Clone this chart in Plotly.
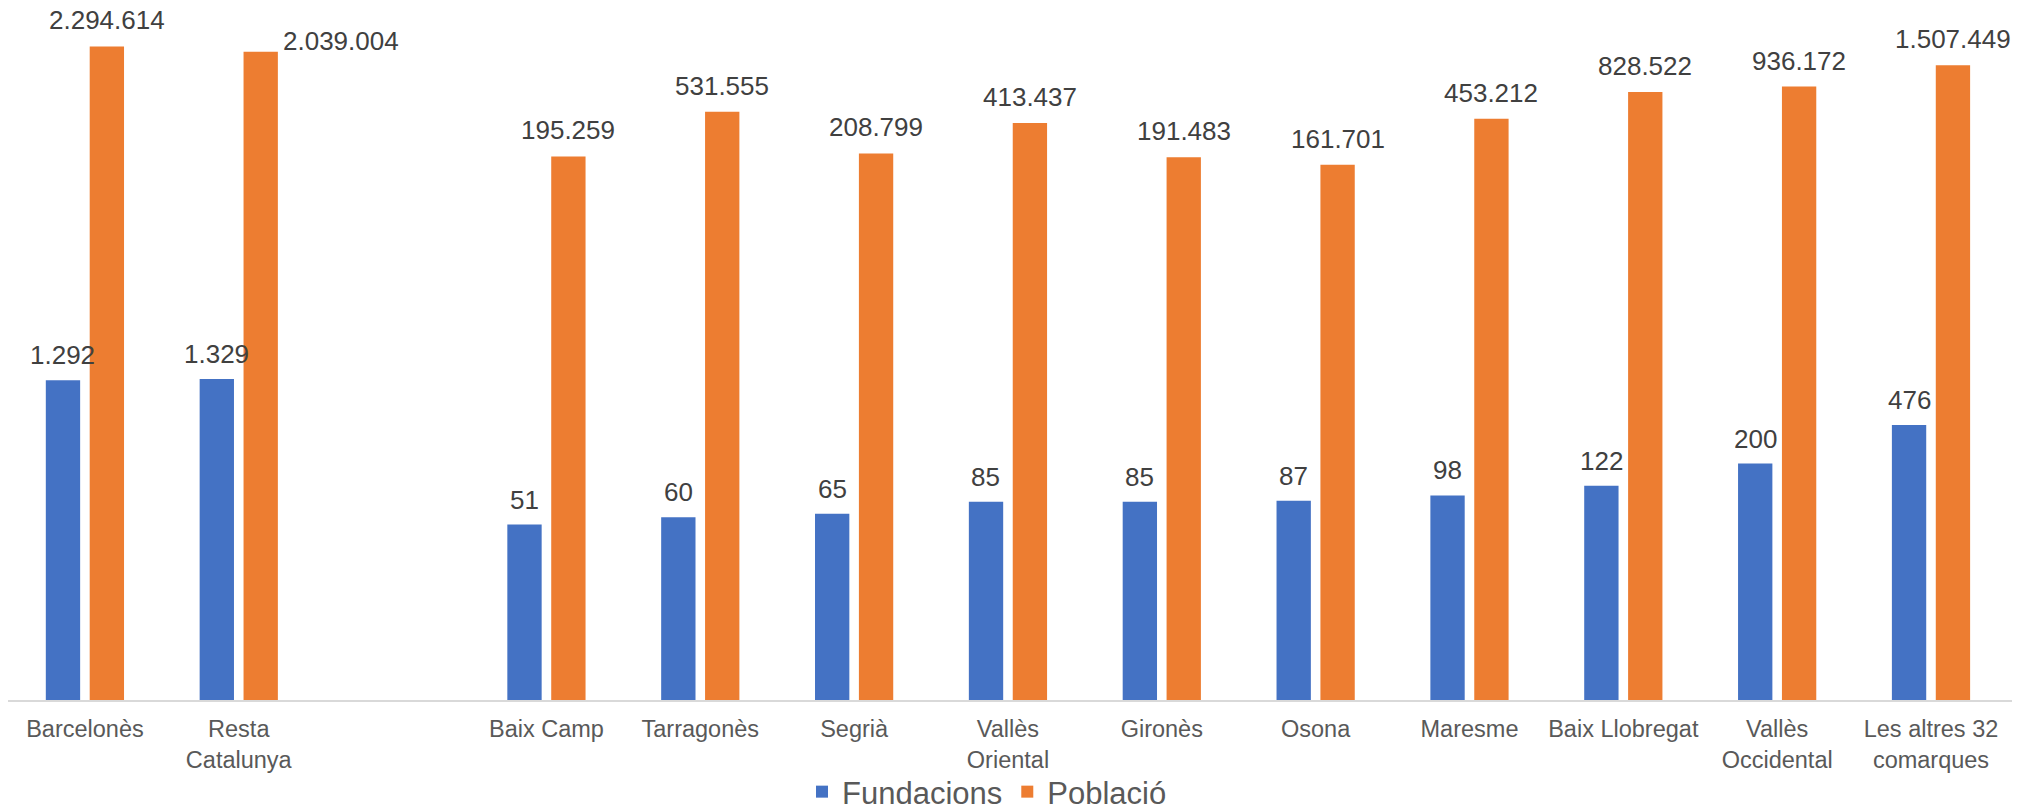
import numpy as np
import plotly.graph_objects as go

categories = ["Barcelonès", "Resta<br>Catalunya", " ", "Baix Camp", "Tarragonès", "Segrià",
              "Vallès<br>Oriental", "Gironès", "Osona", "Maresme", "Baix Llobregat",
              "Vallès<br>Occidental", "Les altres 32<br>comarques"]
fundacions = [1292, 1329, None, 51, 60, 65, 85, 85, 87, 98, 122, 200, 476]
poblacio = [2294614, 2039004, None, 195259, 531555, 208799, 413437, 191483, 161701,
            453212, 828522, 936172, 1507449]

BLUE = "#4472C4"
ORANGE = "#ED7D31"
FONT = "Liberation Sans, Arial, sans-serif"

# page body has an 8px default margin, so the figure is sized to fit the window
W, H = 2017, 800
ML, MR, MT, MB = 0, 13, 2, 108
PX_PER_DECADE = 102.74
plot_w = W - ML - MR
plot_h = H - MT - MB
ytop = plot_h / PX_PER_DECADE


def fmt(v):
    return f"{v:,}".replace(",", ".")


fig = go.Figure()
fig.add_trace(go.Bar(x=categories, y=fundacions, name="Fundacions",
                     marker=dict(color=BLUE, line=dict(width=0))))
fig.add_trace(go.Bar(x=categories, y=poblacio, name="Població",
                     marker=dict(color=ORANGE, line=dict(width=0))))

annotations = []
lab_font = dict(family=FONT, size=26, color="#404040")
for c, f, p in zip(categories, fundacions, poblacio):
    if f is not None:
        annotations.append(dict(x=c, y=np.log10(f), text=fmt(f), showarrow=False,
                                xanchor="center", yanchor="bottom", xshift=-22, yshift=9,
                                borderpad=0, font=lab_font))
    if p is not None:
        if c.startswith("Resta"):
            annotations.append(dict(x=c, y=np.log10(p), text=fmt(p), showarrow=False,
                                    xanchor="left", yanchor="bottom", xshift=43, yshift=-5,
                                    borderpad=0, font=lab_font))
        else:
            annotations.append(dict(x=c, y=np.log10(p), text=fmt(p), showarrow=False,
                                    xanchor="center", yanchor="bottom", xshift=22, yshift=10,
                                    borderpad=0, font=lab_font))

fig.update_layout(
    template="none",
    width=W, height=H,
    margin=dict(l=ML, r=MR, t=MT, b=MB, pad=0, autoexpand=False),
    paper_bgcolor="white", plot_bgcolor="white",
    barmode="group", bargap=0.4293, bargroupgap=0.218,
    font=dict(family=FONT, color="#595959"),
    showlegend=True,
    legend=dict(orientation="h", x=(979 - ML) / plot_w, xanchor="center",
                y=-(MB + 11) / plot_h, yanchor="bottom",
                font=dict(family=FONT, size=31, color="#595959"),
                itemwidth=30, bgcolor="rgba(0,0,0,0)", borderwidth=0),
    annotations=annotations,
    xaxis=dict(type="category", categoryorder="array", categoryarray=categories,
               showline=True, linecolor="#D9D9D9", linewidth=1.5, ticks="",
               showgrid=False, zeroline=False, automargin=False, ticklabelstandoff=7,
               tickfont=dict(family=FONT, size=23.5, color="#595959")),
    yaxis=dict(type="log", range=[0, ytop], visible=False, showgrid=False, automargin=False),
)

fig.write_html("out.html")
